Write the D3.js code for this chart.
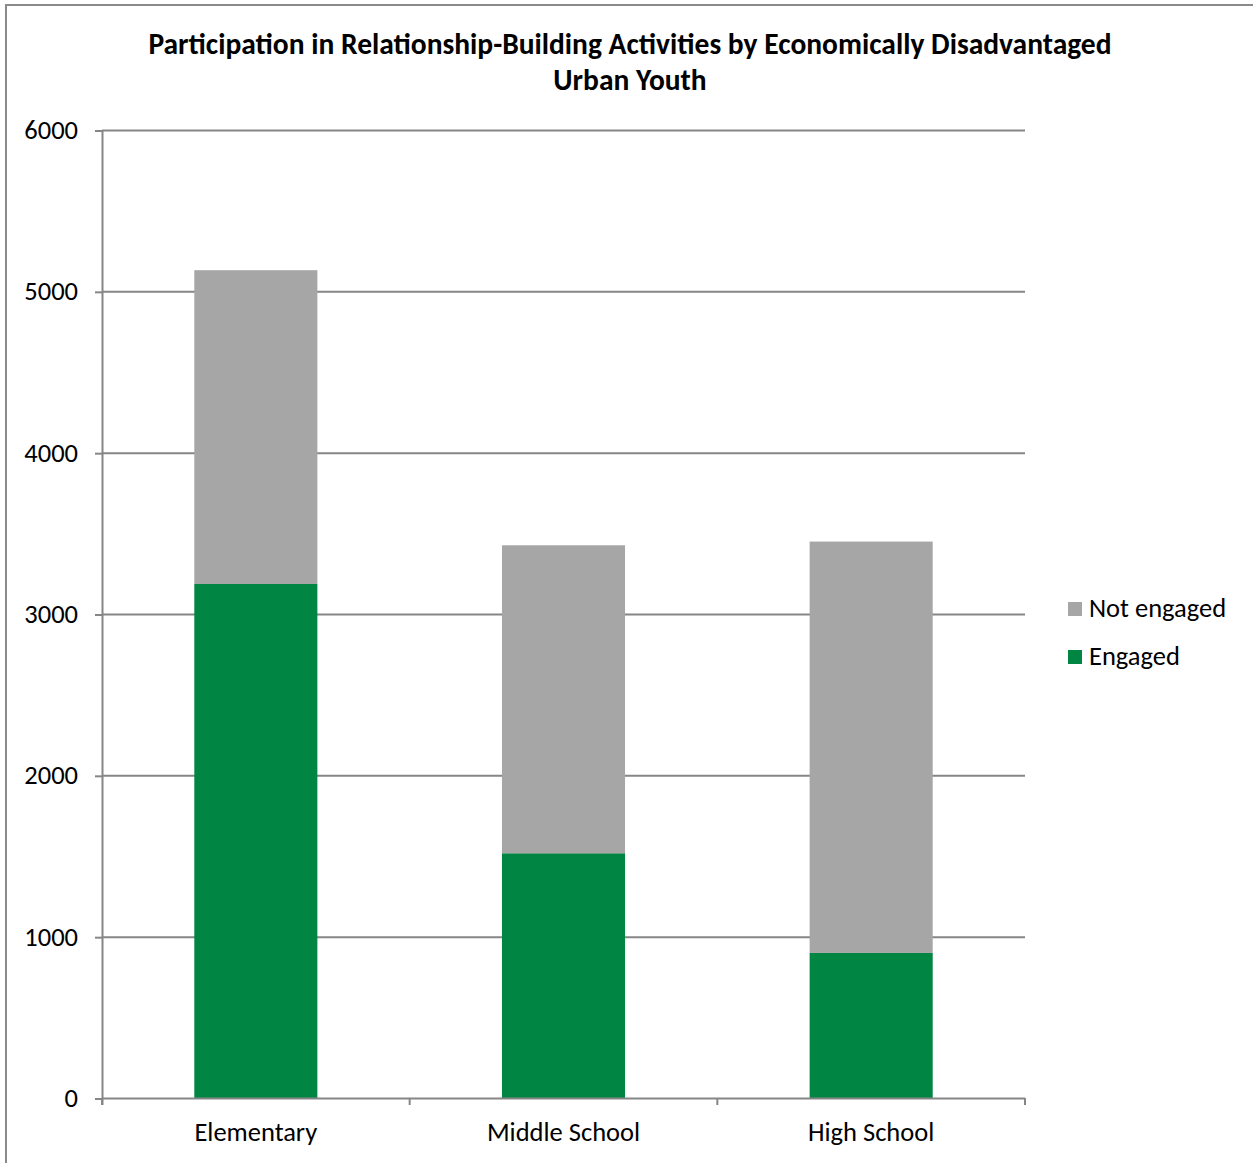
<!DOCTYPE html>
<html>
<head>
<meta charset="utf-8">
<script src="https://cdn.jsdelivr.net/npm/d3@7"></script>
<style>
  html, body { margin: 0; padding: 0; background: #fff; }
  svg { display: block; }
  text { font-family: Carlito, Calibri, Lato, "Liberation Sans", sans-serif; fill: #000; }
</style>
</head>
<body>
<svg id="chart" width="1253" height="1163"></svg>
<script>
// School levels and participation counts
const categories = ["Elementary", "Middle School", "High School"];
const engaged = [3186, 1517, 899];
const notEngaged = [1945, 1909, 2550];
const yTicks = [0, 1000, 2000, 3000, 4000, 5000, 6000];
const seriesNames = ["Engaged", "Not engaged"];
const seriesColors = ["#008542", "#A6A6A6"];
const titleLines = [
  "Participation in Relationship-Building Activities by Economically Disadvantaged",
  "Urban Youth"
];

const svg = d3.select("#chart");
const gridColor = "#868686";
const labelSize = 26.5;

// Outer chart border (left and top edges visible)
svg.append("path")
  .attr("d", "M6,1163 V5 H1253")
  .attr("fill", "none")
  .attr("stroke", "#8a8a8a")
  .attr("stroke-width", 2);

const plot = { left: 102, right: 1025, top: 130, bottom: 1098 };

const x = d3.scaleBand()
  .domain(categories)
  .range([plot.left, plot.right])
  .paddingInner(0.6)
  .paddingOuter(0.3);

const y = d3.scaleLinear()
  .domain([0, 6000])
  .range([plot.bottom, plot.top]);

// Horizontal gridlines
svg.append("g")
  .selectAll("line")
  .data(yTicks.filter(d => d > 0))
  .join("line")
  .attr("x1", plot.left)
  .attr("x2", plot.right)
  .attr("y1", d => y(d) + 0.5)
  .attr("y2", d => y(d) + 0.5)
  .attr("stroke", gridColor)
  .attr("stroke-width", 2);

// Stacked bars
const rows = categories.map((c, i) => ({ cat: c, Engaged: engaged[i], "Not engaged": notEngaged[i] }));
const stacked = d3.stack().keys(seriesNames)(rows);

svg.append("g")
  .selectAll("g")
  .data(stacked)
  .join("g")
  .attr("fill", (d, i) => seriesColors[i])
  .selectAll("rect")
  .data(d => d)
  .join("rect")
  .attr("x", d => x(d.data.cat))
  .attr("width", x.bandwidth())
  .attr("y", d => y(d[1]))
  .attr("height", d => y(d[0]) - y(d[1]));

// Y axis
const yAxis = svg.append("g")
  .attr("transform", `translate(${plot.left},0)`)
  .call(d3.axisLeft(y).tickValues(yTicks).tickFormat(d3.format("d")).tickSize(7).tickPadding(17));
yAxis.select(".domain")
  .attr("d", `M0.5,${plot.top} V${plot.bottom + 7}`)
  .attr("stroke", gridColor)
  .attr("stroke-width", 2);
yAxis.selectAll(".tick line").attr("stroke", gridColor).attr("stroke-width", 2)
  .attr("transform", "translate(0,0.5)");
yAxis.selectAll(".tick text")
  .attr("font-size", labelSize)
  .attr("font-family", "Carlito, Calibri, Lato, sans-serif")
  .attr("fill", "#000");

// X axis with boundary ticks between categories
const xAxis = svg.append("g")
  .attr("transform", `translate(0,${plot.bottom})`);
xAxis.append("line")
  .attr("x1", plot.left).attr("x2", plot.right)
  .attr("y1", 0.5).attr("y2", 0.5)
  .attr("stroke", gridColor).attr("stroke-width", 2);
const boundaries = [plot.left].concat(categories.map(c => x(c) + x.bandwidth() + x.step() * 0.3));
xAxis.selectAll("line.bound")
  .data(boundaries)
  .join("line")
  .attr("class", "bound")
  .attr("x1", d => d).attr("x2", d => d)
  .attr("y1", 0).attr("y2", 7)
  .attr("stroke", gridColor).attr("stroke-width", 2);
xAxis.selectAll("text")
  .data(categories)
  .join("text")
  .attr("x", d => x(d) + x.bandwidth() / 2)
  .attr("y", 43)
  .attr("text-anchor", "middle")
  .attr("font-size", labelSize)
  .text(d => d);

// Title
svg.append("g")
  .selectAll("text")
  .data(titleLines)
  .join("text")
  .attr("x", 630)
  .attr("y", (d, i) => 54 + i * 36)
  .attr("text-anchor", "middle")
  .attr("font-size", 29.5)
  .attr("font-weight", "bold")
  .text(d => d);

// Legend (Not engaged listed first)
const legendItems = seriesNames.map((n, i) => ({ name: n, color: seriesColors[i] })).reverse();
const legend = svg.append("g").attr("transform", "translate(1068,602)");
const li = legend.selectAll("g")
  .data(legendItems)
  .join("g")
  .attr("transform", (d, i) => `translate(0,${i * 48})`);
li.append("rect").attr("width", 14).attr("height", 14).attr("fill", d => d.color);
li.append("text")
  .attr("x", 21)
  .attr("y", 15)
  .attr("font-size", labelSize)
  .text(d => d.name);
</script>
</body>
</html>
